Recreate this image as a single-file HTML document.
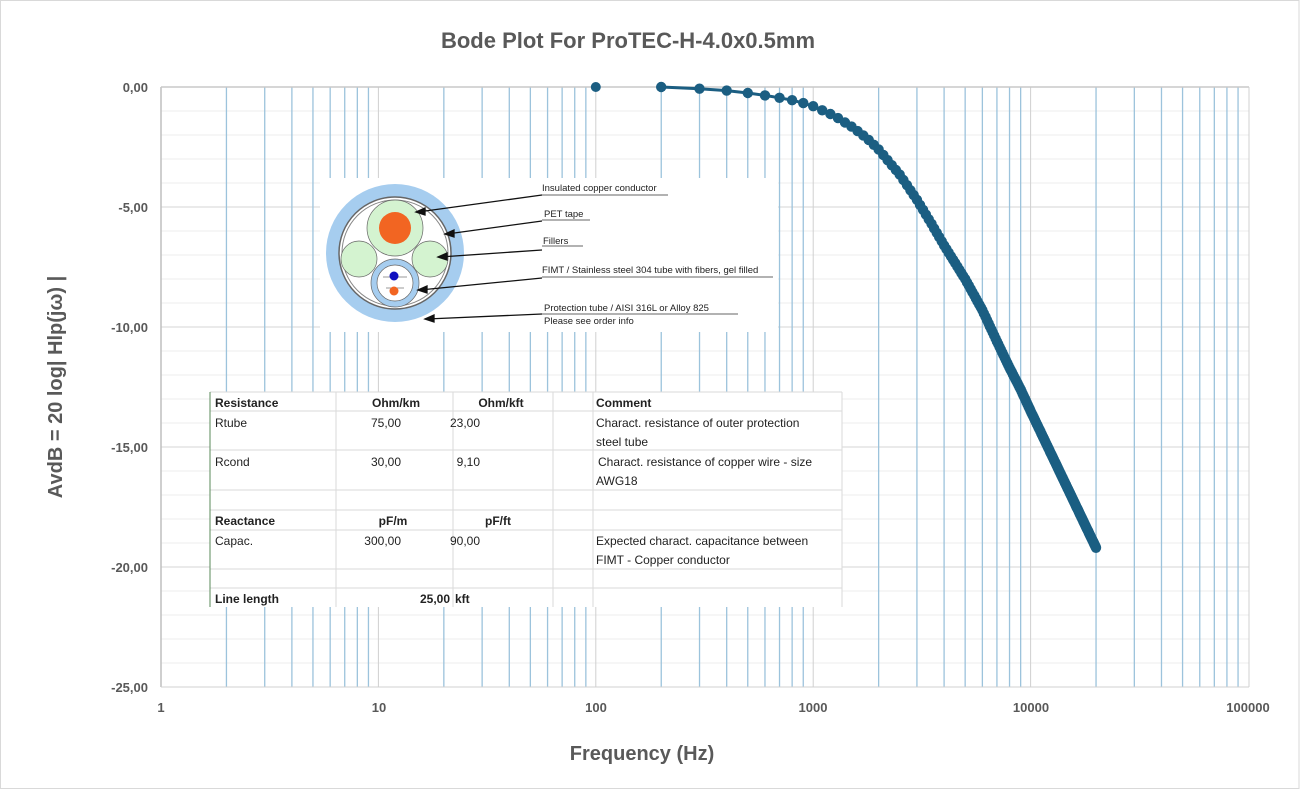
<!DOCTYPE html>
<html><head><meta charset="utf-8"><style>
html,body{margin:0;padding:0;background:#fff}
svg{display:block}
text{font-family:"Liberation Sans",sans-serif}
</style></head><body>
<svg id="s" width="1300" height="790" viewBox="0 0 1300 790" xmlns="http://www.w3.org/2000/svg">
<rect x="0.5" y="0.5" width="1298.5" height="788" fill="#fff" stroke="#d9d9d9"/>
<g id="grid"></g>
<line x1="161" y1="87" x2="161" y2="687" stroke="#bfbfbf" stroke-width="1.5"/>
<line x1="161" y1="87" x2="1249" y2="87" stroke="#c8c8c8" stroke-width="1.5"/>
<line x1="161" y1="687" x2="1249" y2="687" stroke="#d0d0d0"/>
<line x1="1249" y1="87" x2="1249" y2="687" stroke="#d0d0d0"/>
<text x="628" y="48" text-anchor="middle" font-size="22" font-weight="bold" fill="#595959">Bode Plot For ProTEC-H-4.0x0.5mm</text>
<g font-size="13" font-weight="bold" fill="#595959" text-anchor="end">
<text x="148" y="92">0,00</text><text x="148" y="212">-5,00</text><text x="148" y="332">-10,00</text>
<text x="148" y="452">-15,00</text><text x="148" y="572">-20,00</text><text x="148" y="692">-25,00</text>
</g>
<g font-size="13" font-weight="bold" fill="#595959" text-anchor="middle">
<text x="161" y="712">1</text><text x="379" y="712">10</text><text x="596" y="712">100</text>
<text x="813" y="712">1000</text><text x="1031" y="712">10000</text><text x="1248" y="712">100000</text>
</g>
<text x="642" y="760" text-anchor="middle" font-size="20" font-weight="bold" fill="#595959">Frequency (Hz)</text>
<text transform="translate(62,387) rotate(-90)" text-anchor="middle" font-size="20" font-weight="bold" fill="#595959">AvdB = 20 log| Hlp(jω) |</text>
<g id="curve"></g>
<!-- cable image -->
<rect x="320" y="178" width="458" height="154" fill="#fff"/>
<circle cx="395" cy="253" r="69" fill="#a6cdef"/>
<circle cx="395" cy="253" r="56" fill="#fff" stroke="#666" stroke-width="1.5"/>
<circle cx="395" cy="253" r="53" fill="none" stroke="#888" stroke-width="1"/>
<circle cx="395" cy="228" r="28" fill="#d4f3d0" stroke="#666" stroke-width="0.7"/>
<circle cx="395" cy="228" r="16" fill="#f26522"/>
<circle cx="359" cy="259" r="18" fill="#d4f3d0" stroke="#666" stroke-width="0.7"/>
<circle cx="430" cy="259" r="18" fill="#d4f3d0" stroke="#666" stroke-width="0.7"/>
<circle cx="395" cy="283" r="24" fill="#a6cdef" stroke="#666" stroke-width="0.7"/>
<circle cx="395" cy="283" r="18" fill="#fff" stroke="#666" stroke-width="0.7"/>
<line x1="383" y1="277" x2="407" y2="277" stroke="#333" stroke-width="0.6"/>
<line x1="386" y1="288" x2="404" y2="288" stroke="#333" stroke-width="0.6"/>
<circle cx="394" cy="276" r="4.5" fill="#1010c0"/>
<circle cx="394" cy="291" r="4.5" fill="#f26522"/>
<g stroke="#111" stroke-width="1.3" fill="#111">
<line x1="542" y1="195" x2="418" y2="212"/><polygon points="416,212 425,208 425,215"/>
<line x1="542" y1="221" x2="447" y2="234"/><polygon points="445,234 454,230 454,237"/>
<line x1="542" y1="250" x2="440" y2="257"/><polygon points="438,257 447,253 447,260"/>
<line x1="542" y1="278" x2="420" y2="290"/><polygon points="418,290 427,286 427,293"/>
<line x1="542" y1="314" x2="427" y2="319"/><polygon points="425,319 434,315 434,322"/>
</g>
<g stroke="#333" stroke-width="0.8">
<line x1="542" y1="195" x2="668" y2="195"/><line x1="542" y1="220" x2="590" y2="220"/>
<line x1="542" y1="246" x2="583" y2="246"/><line x1="542" y1="277" x2="773" y2="277"/>
<line x1="542" y1="314" x2="738" y2="314"/>
</g>
<g font-size="9.5" fill="#222">
<text x="542" y="191">Insulated copper conductor</text>
<text x="544" y="217">PET tape</text>
<text x="543" y="244">Fillers</text>
<text x="542" y="273">FIMT / Stainless steel 304 tube with fibers, gel filled</text>
<text x="544" y="311">Protection tube / AISI 316L or Alloy 825</text>
<text x="544" y="324">Please see order info</text>
</g>
<!-- table -->
<rect x="210" y="392" width="632" height="215" fill="#fff"/>
<g stroke="#dadada" stroke-width="1">
<line x1="210" y1="392" x2="842" y2="392"/><line x1="210" y1="411" x2="842" y2="411"/>
<line x1="210" y1="450" x2="842" y2="450"/><line x1="210" y1="490" x2="842" y2="490"/>
<line x1="210" y1="510" x2="842" y2="510"/><line x1="210" y1="530" x2="842" y2="530"/>
<line x1="210" y1="569" x2="842" y2="569"/><line x1="210" y1="588" x2="842" y2="588"/>
<line x1="336" y1="392" x2="336" y2="607"/><line x1="453" y1="392" x2="453" y2="607"/>
<line x1="553" y1="392" x2="553" y2="607"/><line x1="593" y1="392" x2="593" y2="607"/>
<line x1="842" y1="392" x2="842" y2="607"/>
</g>
<line x1="210" y1="392" x2="210" y2="607" stroke="#5a8a5a" stroke-width="1"/>
<g font-size="12" fill="#222">
<text x="215" y="407" font-weight="bold">Resistance</text>
<text x="396" y="407" font-weight="bold" text-anchor="middle">Ohm/km</text>
<text x="501" y="407" font-weight="bold" text-anchor="middle">Ohm/kft</text>
<text x="596" y="407" font-weight="bold">Comment</text>
<text x="215" y="427">Rtube</text>
<text x="401" y="427" text-anchor="end">75,00</text>
<text x="480" y="427" text-anchor="end">23,00</text>
<text x="596" y="427">Charact. resistance of outer protection</text>
<text x="596" y="446">steel tube</text>
<text x="215" y="466">Rcond</text>
<text x="401" y="466" text-anchor="end">30,00</text>
<text x="480" y="466" text-anchor="end">9,10</text>
<text x="598" y="466">Charact. resistance of copper wire - size</text>
<text x="596" y="485">AWG18</text>
<text x="215" y="525" font-weight="bold">Reactance</text>
<text x="393" y="525" font-weight="bold" text-anchor="middle">pF/m</text>
<text x="498" y="525" font-weight="bold" text-anchor="middle">pF/ft</text>
<text x="215" y="545">Capac.</text>
<text x="401" y="545" text-anchor="end">300,00</text>
<text x="480" y="545" text-anchor="end">90,00</text>
<text x="596" y="545">Expected charact. capacitance between</text>
<text x="596" y="564">FIMT - Copper conductor</text>
<text x="215" y="603" font-weight="bold">Line length</text>
<text x="450" y="603" font-weight="bold" text-anchor="end">25,00</text>
<text x="455" y="603" font-weight="bold">kft</text>
</g>
</svg>
<script>
function X(f){return 161+217.4*Math.log10(f);}
function Y(d){return 87-24*d;}
var g=document.getElementById("grid"),h="";
for(var d=1;d<25;d++){var y=Y(-d);h+='<line x1="161" y1="'+y+'" x2="1249" y2="'+y+'" stroke="'+(d%5==0?"#d6d6d6":"#ececec")+'"/>';}
for(var e=0;e<5;e++)for(var k=1;k<10;k++){var x=X(k*Math.pow(10,e));
 if(k==1){if(e>0)h+='<line x1="'+x+'" y1="87" x2="'+x+'" y2="687" stroke="#d0d0d0"/>';}
 else h+='<line x1="'+x+'" y1="87" x2="'+x+'" y2="687" stroke="#9cc3dc" stroke-width="1.3"/>';}
g.innerHTML=h;
var P=[[200,0],[300,-0.07],[400,-0.15],[500,-0.25],[600,-0.35],[700,-0.45],[800,-0.55],[900,-0.67],[1000,-0.8],[1250,-1.2],[1500,-1.65],[1750,-2.1],[2000,-2.6],[2500,-3.65],[3000,-4.7],[3500,-5.7],[4000,-6.6],[5000,-8.0],[6000,-9.3],[7000,-10.6],[8000,-11.7],[9000,-12.6],[10000,-13.5],[20000,-19.2]];
function val(f){for(var i=0;i<P.length-1;i++){if(f<=P[i+1][0]){var a=Math.log(P[i][0]),b=Math.log(P[i+1][0]),t=(Math.log(f)-a)/(b-a);return P[i][1]+t*(P[i+1][1]-P[i][1]);}}return P[P.length-1][1];}
var fs=[];for(var f=200;f<=20000;f+=100)fs.push(f);
var c="",pts=[];
fs.forEach(function(f){pts.push(X(f).toFixed(1)+","+Y(val(f)).toFixed(1));});
c+='<polyline points="'+pts.join(" ")+'" fill="none" stroke="#1b5e82" stroke-width="3"/>';
c+='<circle cx="'+X(100)+'" cy="'+Y(0)+'" r="5" fill="#1b5e82"/>';
fs.forEach(function(f){c+='<circle cx="'+X(f).toFixed(1)+'" cy="'+Y(val(f)).toFixed(1)+'" r="5.2" fill="#1b5e82"/>';});
document.getElementById("curve").innerHTML=c;
</script>
</body></html>
